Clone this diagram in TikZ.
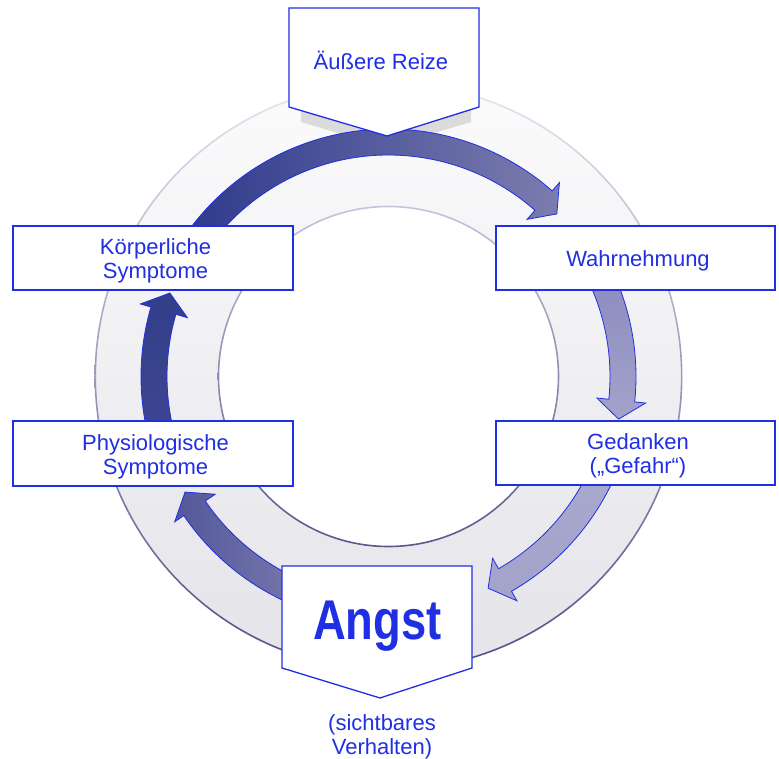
\documentclass[tikz,border=0pt]{standalone}
\usepackage{fontspec}
\setmainfont{Liberation Sans}
\usepackage{graphicx}
\usepackage{tikz}
\usetikzlibrary{positioning}
\usepackage{xcolor}

\definecolor{cycblue}{RGB}{32,46,228}
\definecolor{ringtop}{RGB}{251,251,252}
\definecolor{ringbot}{RGB}{228,228,233}
\definecolor{edgetop}{RGB}{230,230,240}
\definecolor{edgebot}{RGB}{78,80,134}
\definecolor{innertop}{RGB}{196,196,222}
\definecolor{innerbot}{RGB}{88,88,138}

\tikzset{
  boxline/.style={draw=cycblue, line width=1.3pt, fill=white, line join=miter},
  stepbox/.style={boxline, minimum width=280pt, minimum height=64pt, inner sep=0pt},
  steptext/.style={text=cycblue, font=\fontsize{22}{24}\selectfont, align=center, inner sep=0pt},
  boxtext/.style={steptext, xshift=2.5pt, yshift=-3pt},
}

% fat arc arrow on the ring: start angle, tip angle, shading
\newcommand{\ringarrow}[3]{%
  \path[draw=cycblue, line width=0.8pt, line join=miter, #3]
    (#1:247.5) arc[start angle=#1, end angle=#2+4.6, radius=247.5]
    -- ({#2+4.6}:258.5) -- (#2:234) -- ({#2+4.6}:209.5) -- ({#2+4.6}:221.5)
    arc[start angle=#2+4.6, end angle=#1, radius=221.5] -- cycle;}

\begin{document}
\begin{tikzpicture}[x=1pt,y=1pt]
\useasboundingbox (-388.5,-382.5) rectangle (390.5,376.5);

% ring and its edges
\path[even odd rule, top color=ringtop, bottom color=ringbot]
  (0,0) circle[radius=293] (0,0) circle[radius=170];
\path[even odd rule, top color=edgetop, bottom color=edgebot]
  (0,0) circle[radius=294] (0,0) circle[radius=292.4];
\path[even odd rule, top color=innertop, bottom color=innerbot]
  (0,0) circle[radius=170.8] (0,0) circle[radius=169.2];

% shadow below the top box
\fill[gray!28] (-87.5,362) -- (82.5,362) -- (82.5,254.5) -- (-2.5,229) -- (-87.5,254.5) -- cycle;

% arrows, clockwise
\ringarrow{145}{44}{left color={rgb,255:red,46;green,58;blue,140}, right color={rgb,255:red,124;green,124;blue,174}}
\ringarrow{25}{-10.5}{top color={rgb,255:red,140;green,140;blue,190}, bottom color={rgb,255:red,162;green,162;blue,204}}
\ringarrow{-20}{-64.8}{top color={rgb,255:red,170;green,170;blue,208}, bottom color={rgb,255:red,162;green,162;blue,202}}
\ringarrow{-110}{-150.4}{left color={rgb,255:red,84;green,88;blue,154}, right color={rgb,255:red,122;green,122;blue,174}}
\ringarrow{200}{159.1}{top color={rgb,255:red,50;green,62;blue,138}, bottom color={rgb,255:red,64;green,72;blue,146}}

% top box
\draw[boxline] (-99.5,368.5) -- (90.5,368.5) -- (90.5,269.5) -- (-1.5,240.5) -- (-99.5,269.5) -- cycle;
\node[steptext, anchor=base] (reize) at (-7.5,306.5) {Äußere Reize};

% side boxes
\node[stepbox, minimum width=279pt] (wahr) at (247,118.5) {};
\node[boxtext] (wahrtext) at (wahr.center) {Wahrnehmung};
\node[stepbox, minimum width=279pt] (gedanken) at (247,-76.5) {};
\node[boxtext] (gedankentext) at (gedanken.center) {Gedanken\\(„Gefahr“)};
\node[stepbox] (koerper) at (-235.5,118.5) {};
\node[boxtext] (koerpertext) at (koerper.center) {Körperliche\\Symptome};
\node[stepbox, minimum height=65pt] (physio) at (-235.5,-77) {};
\node[boxtext] (physiotext) at (physio.center) {Physiologische\\Symptome};

% bottom box
\draw[boxline] (-106.5,-189.5) -- (83.5,-189.5) -- (83.5,-291.5) -- (-8.5,-321.5) -- (-106.5,-291.5) -- cycle;
\coordinate (angsttip) at (-8.5,-321.5);
\node[text=cycblue, font=\fontsize{56}{60}\selectfont\bfseries, inner sep=0pt, anchor=base] (angst) at (-11,-263.5)
  {\scalebox{0.81}[1]{Angst}};
\node[steptext, below=16pt of angsttip, xshift=2pt] (verhalten) {(sichtbares\\Verhalten)};
\end{tikzpicture}
\end{document}
